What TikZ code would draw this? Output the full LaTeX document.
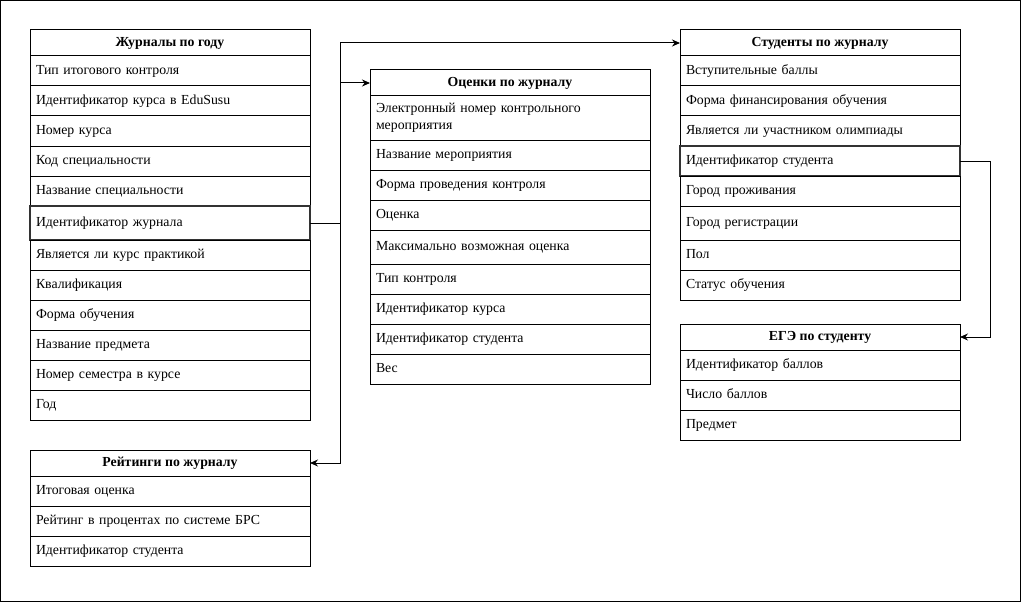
\documentclass[tikz,border=0pt]{standalone}
\usepackage{fontspec}
\setmainfont{Liberation Serif}
\usetikzlibrary{positioning, arrows.meta}

\begin{document}
\begin{tikzpicture}[x=1pt, y=-1pt, line width=1pt, font=\fontsize{13.8}{17}\selectfont, >={Stealth[length=8pt, width=7pt]},
    tabhead/.style={draw, outer sep=0pt, inner sep=0pt, minimum width=280pt, minimum height=26pt, text height=9.5pt, text depth=3pt, font=\fontsize{13.8}{17}\selectfont\bfseries},
    tabrow/.style={draw, outer sep=0pt, text width=268pt, inner xsep=6pt, inner ysep=0pt, align=left, minimum height=30pt, text height=9.5pt, text depth=3pt},
    keyrow/.style={tabrow, line width=2pt, draw=black!80}]
        % Frame
        \useasboundingbox (0,0) rectangle (1021,602);
        \draw (0.5,0.5) rectangle (1020.5,601.5);

        % Journals
        \node[tabhead, anchor=north west] (jh) at (30,30) {Журналы по году};
        \node[tabrow, below=0pt of jh] (j1) {Тип итогового контроля};
        \node[tabrow, below=0pt of j1] (j2) {Идентификатор курса в EduSusu};
        \node[tabrow, below=0pt of j2] (j3) {Номер курса};
        \node[tabrow, below=0pt of j3] (j4) {Код специальности};
        \node[tabrow, below=0pt of j4] (j5) {Название специальности};
        \node[keyrow, below=0pt of j5, minimum height=34pt] (jid) {Идентификатор журнала};
        \node[tabrow, below=0pt of jid] (j7) {Является ли курс практикой};
        \node[tabrow, below=0pt of j7] (j8) {Квалификация};
        \node[tabrow, below=0pt of j8] (j9) {Форма обучения};
        \node[tabrow, below=0pt of j9] (j10) {Название предмета};
        \node[tabrow, below=0pt of j10] (j11) {Номер семестра в курсе};
        \node[tabrow, below=0pt of j11] (j12) {Год};

        % Ratings
        \node[tabhead, anchor=north west] (rh) at (30,450) {Рейтинги по журналу};
        \node[tabrow, below=0pt of rh] (r1) {Итоговая оценка};
        \node[tabrow, below=0pt of r1] (r2) {Рейтинг в процентах по системе БРС};
        \node[tabrow, below=0pt of r2] (r3) {Идентификатор студента};

        % Marks
        \node[tabhead, anchor=north west] (oh) at (370,70) {Оценки по журналу};
        \node[tabrow, below=0pt of oh, minimum height=44pt, text depth=20pt] (o1) {Электронный номер контрольного\\мероприятия};
        \node[tabrow, below=0pt of o1] (o2) {Название мероприятия};
        \node[tabrow, below=0pt of o2] (o3) {Форма проведения контроля};
        \node[tabrow, below=0pt of o3] (o4) {Оценка};
        \node[tabrow, below=0pt of o4, minimum height=34pt] (o5) {Максимально возможная оценка};
        \node[tabrow, below=0pt of o5] (o6) {Тип контроля};
        \node[tabrow, below=0pt of o6] (o7) {Идентификатор курса};
        \node[tabrow, below=0pt of o7] (o8) {Идентификатор студента};
        \node[tabrow, below=0pt of o8] (o9) {Вес};

        % Students
        \node[tabhead, anchor=north west] (sh) at (680,30) {Студенты по журналу};
        \node[tabrow, below=0pt of sh] (s1) {Вступительные баллы};
        \node[tabrow, below=0pt of s1] (s2) {Форма финансирования обучения};
        \node[tabrow, below=0pt of s2] (s3) {Является ли участником олимпиады};
        \node[keyrow, below=0pt of s3] (sid) {Идентификатор студента};
        \node[tabrow, below=0pt of sid] (s5) {Город проживания};
        \node[tabrow, below=0pt of s5, minimum height=34pt] (s6) {Город регистрации};
        \node[tabrow, below=0pt of s6] (s7) {Пол};
        \node[tabrow, below=0pt of s7] (s8) {Статус обучения};

        % Exam scores
        \node[tabhead, anchor=north west] (eh) at (680,324) {ЕГЭ по студенту};
        \node[tabrow, below=0pt of eh] (e1) {Идентификатор баллов};
        \node[tabrow, below=0pt of e1] (e2) {Число баллов};
        \node[tabrow, below=0pt of e2] (e3) {Предмет};

        % Links
        \path (jid.east) ++(30,0) coordinate (trunk);
        \path (sid.east) ++(30,0) coordinate (sturn);
        \draw[->] (jid.east) -- (trunk) |- (sh.west);
        \draw[->] (trunk) |- (oh.west);
        \draw[->] (trunk) |- (rh.east);
        \draw[->] (sid.east) -- (sturn) |- (eh.east);
    \end{tikzpicture}
\end{document}
